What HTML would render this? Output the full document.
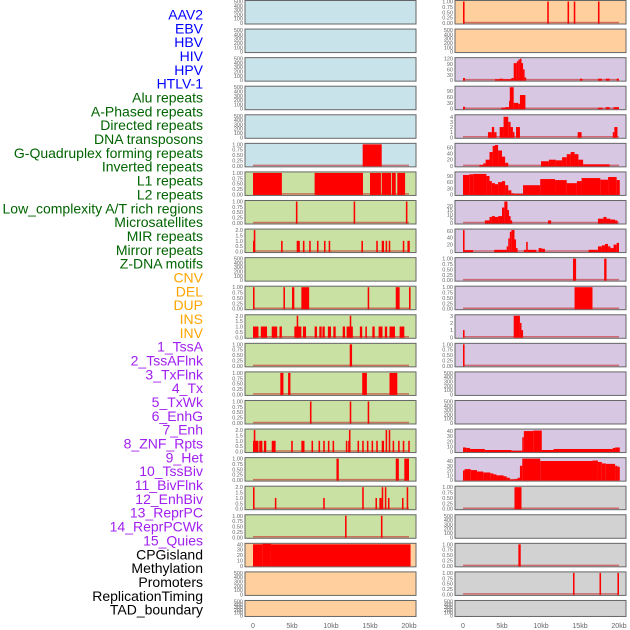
<!DOCTYPE html>
<html><head><meta charset="utf-8"><style>
html,body{margin:0;padding:0;background:#fff;width:630px;height:630px;overflow:hidden}
svg{display:block;font-family:"Liberation Sans",sans-serif}
</style></head><body>
<svg id="chart" width="630" height="630" viewBox="0 0 630 630" xmlns="http://www.w3.org/2000/svg">
<g id="labels"></g>
<g id="panels"></g>
<g id="xaxes"></g>
</svg>
<script>
const trackLabels = ["AAV2","EBV","HBV","HIV","HPV","HTLV-1","Alu repeats","A-Phased repeats","Directed repeats","DNA transposons","G-Quadruplex forming repeats","Inverted repeats","L1 repeats","L2 repeats","Low_complexity A/T rich regions","Microsatellites","MIR repeats","Mirror repeats","Z-DNA motifs","CNV","DEL","DUP","INS","INV","1_TssA","2_TssAFlnk","3_TxFlnk","4_Tx","5_TxWk","6_EnhG","7_Enh","8_ZNF_Rpts","9_Het","10_TssBiv","11_BivFlnk","12_EnhBiv","13_ReprPC","14_ReprPCWk","15_Quies","CPGisland","Methylation","Promoters","ReplicationTiming","TAD_boundary"];
const labelGroups = ["v","v","v","v","v","v","r","r","r","r","r","r","r","r","r","r","r","r","r","s","s","s","s","s","c","c","c","c","c","c","c","c","c","c","c","c","c","c","c","k","k","k","k","k"];
const xTicks = [0,5,10,15,20];
const xTickLabels = ["0","5kb","10kb","15kb","20kb"];
const ticks500 = [0,100,200,300,400,500];
const ticks1 = [0,0.25,0.5,0.75,1];
const ticks2 = [0,0.5,1,1.5,2];
// data segments: [startKb, endKb, value]
const L5 = [[14.06,16.5,1]];
const L6 = [[0,3.7,1],[7.9,14.1,1],[15.0,16.4,1],[16.5,17.7,1],[17.8,18.3,1],[18.5,19.5,1]];
const L7 = [[5.5,5.7,1],[12.9,13.1,1],[19.6,19.8,1]];
const L8 = [[0,0.1,1],[0.1,0.3,2],[3.6,3.8,1],[5.6,6.0,1],[6.4,6.6,1],[7.2,7.4,1],[8.2,8.4,1],[9.1,9.3,1],[9.7,9.9,1],[13.9,14.1,1],[15.8,16.0,1],[16.5,16.8,1],[17.0,17.2,1],[17.4,17.6,1],[19.2,19.4,1],[19.8,20.1,1]];
const L10 = [[0,0.2,1],[3.9,4.1,1],[5.0,5.3,1],[6.2,7.2,1],[14.7,14.9,1],[18.3,18.8,1],[20.0,20.2,1]];
const L11 = [[0,0.7,1],[1.0,1.8,1],[2.4,3.1,1],[3.4,3.7,1],[5.3,6.2,1],[5.6,5.8,2],[6.4,6.8,1],[7.9,8.2,1],[8.5,8.8,1],[8.9,9.2,1],[9.6,10.0,1],[10.3,10.6,1],[11.5,11.8,1],[12.0,12.8,1],[12.4,12.6,2],[13.7,14.0,1],[14.4,14.6,1],[15.3,15.6,1],[16.1,16.6,1],[16.9,17.2,1],[17.5,18.2,1],[18.8,19.4,1]];
const L12 = [[12.4,12.7,1]];
const L13 = [[3.5,3.9,1],[4.5,4.8,1],[14.0,14.6,1],[17.5,18.5,1]];
const L14 = [[7.3,7.5,1],[12.4,12.6,1],[14.7,14.9,1]];
const L15 = [[0,0.7,1],[0.1,0.3,2],[0.8,1.2,1],[1.4,1.7,1],[2.4,2.9,1],[4.9,5.1,1],[6.2,6.6,1],[7.5,7.7,1],[8.4,8.6,1],[9.0,9.2,1],[9.6,9.8,1],[10.2,10.4,1],[11.9,12.1,1],[12.2,12.5,1],[12.3,12.5,2],[13.4,13.6,1],[14.0,14.2,1],[14.6,14.8,1],[15.2,15.4,1],[15.8,16.0,1],[16.5,16.8,1],[17.0,17.2,2],[17.4,17.6,2],[17.9,18.1,1],[18.6,18.8,1],[19.2,19.4,1],[19.9,20.1,1]];
const L16 = [[10.7,11.0,1],[18.3,18.7,1],[19.4,20.0,1]];
const L17 = [[0,0.2,2],[2.8,3.0,1],[9.0,9.2,1],[14.0,14.2,2],[15.7,15.9,1],[16.2,16.5,1],[16.5,16.7,2],[16.9,17.1,2],[17.3,17.5,1],[19.1,19.3,1],[19.7,19.9,2]];
const L18 = [[11.8,12.0,1],[16.4,16.6,1]];
const L19 = [[0,1.2,40],[1.2,2.3,41],[2.3,20.2,40]];
const R0 = [[0,0.2,1],[10.8,11.0,1],[13.4,13.6,1],[14.2,14.4,1],[17.3,17.5,1]];
const R2 = [[0,0.25,12],[4.1,4.7,5],[4.7,5.1,8],[5.1,6.2,5],[6.2,6.5,12],[6.5,6.9,95],[6.9,7.1,105],[7.1,7.3,115],[7.3,7.5,120],[7.5,7.7,95],[7.7,7.9,60],[7.9,8.1,15],[15.0,15.3,8],[17.3,17.8,8],[18.3,18.8,8],[19.7,20.0,8]];
const R3 = [[0,0.25,10],[4.9,5.4,5],[5.4,5.9,8],[5.9,6.0,40],[6.0,6.5,110],[6.5,7.1,30],[7.1,7.3,25],[7.3,8.0,70],[17.3,17.9,5],[18.3,18.8,8],[19.3,20.0,8]];
const R4 = [[3.2,3.7,1],[3.7,4.0,2],[4.0,4.3,1],[4.7,5.2,2],[5.2,5.8,4],[5.8,6.1,3],[6.1,6.4,2],[6.4,6.6,1],[6.8,7.3,2],[14.7,15.2,1],[19.2,19.4,1],[19.4,19.8,2]];
const R5 = [[2.1,2.6,3],[2.6,2.9,8],[2.9,3.4,20],[3.4,3.8,45],[3.8,4.1,65],[4.1,4.5,68],[4.5,5.0,50],[5.0,5.4,30],[5.4,5.8,10],[10.0,11.0,15],[11.0,11.9,20],[11.9,12.7,18],[12.7,13.3,28],[13.3,13.8,38],[13.8,14.3,45],[14.3,14.8,38],[14.8,15.4,20],[15.4,18.8,5]];
const R6 = [[0,0.8,95],[0.8,1.3,98],[1.3,3.0,100],[3.0,3.4,90],[3.4,3.7,65],[3.7,4.1,55],[4.1,4.5,50],[4.5,5.0,60],[5.0,5.4,65],[5.4,5.8,45],[5.8,6.2,20],[6.2,6.5,5],[6.5,7.7,2],[7.7,9.9,45],[9.9,11.8,75],[11.8,13.3,70],[13.3,14.6,55],[14.6,15.2,65],[15.2,17.6,80],[17.6,18.6,72],[18.6,19.7,85],[19.7,20.1,70]];
const R7 = [[2.8,3.4,3],[3.4,3.7,7],[3.7,4.1,8],[4.1,4.5,7],[4.5,5.0,8],[5.0,5.3,18],[5.3,5.7,25],[5.7,5.9,15],[5.9,6.1,8],[6.1,6.3,3],[10.9,11.3,3],[17.3,18.0,5],[18.0,18.4,7],[18.4,18.9,5],[18.9,19.5,4],[19.5,19.8,3]];
const R8 = [[0,0.2,62],[0.2,1.3,4],[4.0,5.6,5],[5.6,5.8,15],[5.8,6.0,38],[6.0,6.2,57],[6.2,6.6,62],[6.6,6.8,35],[6.8,7.0,10],[7.8,8.1,5],[8.1,8.3,28],[8.3,9.4,5],[9.7,10.1,10],[10.1,10.5,8],[16.1,17.3,5],[17.3,17.8,15],[17.8,18.2,18],[18.2,18.6,22],[18.6,18.9,15],[18.9,19.3,10],[19.3,19.7,20],[19.7,20.0,25]];
const R9 = [[14.1,14.5,1],[18.1,18.4,1]];
const R10 = [[14.3,16.6,1]];
const R11 = [[0,0.2,1],[6.5,7.3,3],[7.3,7.5,2],[7.5,7.7,1]];
const R12 = [[0,0.2,1]];
const R15 = [[0,0.4,8],[0.4,0.9,7],[0.9,2.8,5],[2.8,6.2,3],[6.2,7.6,1],[7.6,7.8,28],[7.8,9.0,40],[9.0,10.1,41],[10.1,11.6,3],[11.6,19.2,5],[19.2,19.5,7],[19.5,20.1,8]];
const R16 = [[0,0.2,20],[0.2,1.0,23],[1.0,1.8,21],[1.8,2.6,18],[2.6,3.5,16],[3.5,3.9,14],[3.9,4.3,12],[4.3,5.2,10],[5.2,5.6,8],[5.6,6.0,5],[6.0,6.5,1],[6.5,7.0,2],[7.0,7.3,5],[7.3,7.6,30],[7.6,9.9,45],[9.9,16.6,40],[16.6,17.3,41],[17.3,17.8,38],[17.8,18.3,35],[18.3,19.5,34],[19.5,19.8,30],[19.8,20.1,28]];
const R17 = [[6.6,7.5,1]];
const R19 = [[7.1,7.4,1]];
const R20 = [[14.1,14.3,1],[17.5,17.7,1],[19.8,20.0,1]];

const BLUE="#c8e3ea", GREEN="#c9e2a3", ORANGE="#ffd09e", PURPLE="#d7c7e3", GRAY="#d2d2d2";
const leftPanels = [
 [BLUE,ticks500,null],[BLUE,ticks500,null],[BLUE,ticks500,null],[BLUE,ticks500,null],[BLUE,ticks500,null],[BLUE,ticks1,L5],
 [GREEN,ticks1,L6],[GREEN,ticks1,L7],[GREEN,ticks2,L8],[GREEN,ticks500,null],[GREEN,ticks1,L10],[GREEN,ticks2,L11],
 [GREEN,ticks1,L12],[GREEN,ticks1,L13],[GREEN,ticks1,L14],[GREEN,ticks2,L15],[GREEN,ticks1,L16],[GREEN,ticks2,L17],[GREEN,ticks1,L18],
 [ORANGE,[0,10,20,30,40],L19],[ORANGE,ticks500,null],[ORANGE,ticks500,null]];
const rightPanels = [
 [ORANGE,ticks1,R0],[ORANGE,ticks500,null],[PURPLE,[0,30,60,90,120],R2],[PURPLE,[0,30,60,90],R3,110],[PURPLE,[0,1,2,3,4],R4,4.2],
 [PURPLE,[0,20,40,60],R5,70],[PURPLE,[0,30,60,90],R6,105],[PURPLE,[0,5,10,15,20],R7,25],[PURPLE,[0,20,40,60],R8,62],
 [PURPLE,ticks1,R9],[PURPLE,ticks1,R10],[PURPLE,[0,1,2,3],R11],[PURPLE,ticks1,R12],[PURPLE,ticks500,null],[PURPLE,ticks500,null],
 [PURPLE,[0,10,20,30,40],R15,42],[PURPLE,[0,10,20,30,40],R16,45],[GRAY,ticks1,R17],[GRAY,ticks500,null],[GRAY,ticks1,R19],[GRAY,ticks1,R20],[GRAY,ticks500,null]];

const NS="http://www.w3.org/2000/svg";
function mk(tag, attrs, parent){const e=document.createElementNS(NS,tag);for(const k in attrs)e.setAttribute(k,attrs[k]);parent.appendChild(e);return e;}
const colors={v:"#0000ff",r:"#006400",s:"#ffa500",c:"#a020f0",k:"#000000"};
const labG=document.getElementById('labels');
trackLabels.forEach((t,i)=>{
  const el=mk('text',{x:203,y:19.5+i*13.84,'text-anchor':'end','font-size':'14',fill:colors[labelGroups[i]]},labG);
  
  
  el.textContent=t;
});
function rowTop(i){return i*28.57;}
function rowH(i){return i===21?17:24.5;}
function xScale(col,kb){return (col===0?253:463)+kb*7.8;}
const pG=document.getElementById('panels');
function fmt(v,tk){const m=tk[tk.length-1];if(m===1)return v.toFixed(2);if(m===2)return v.toFixed(1);return String(v);}
function drawPanel(col,row,def){
  const [bg,tk,data,ymaxO]=def;
  const top=rowTop(row),h=rowH(row),x0=col===0?245:455,w=171;
  const g=mk('g',{},pG);
  
  
  const ymax=ymaxO||tk[tk.length-1];
  const y=v=>top+h-1.5-(v/ymax)*(h-3);
  mk('rect',{x:x0,y:top+0.5,width:w,height:h-1,fill:bg,stroke:'#666',"stroke-width":1},g);
  tk.forEach(v=>{
    const t=mk('text',{x:x0-2,y:y(v)+2,'text-anchor':'end','font-size':'5.5',fill:'#666'},g);
    
    
    t.textContent=fmt(v,tk);
  });
  if(data){
    mk('line',{x1:xScale(col,0),x2:xScale(col,20),y1:top+h-2,y2:top+h-2,stroke:'rgba(200,40,40,0.6)','stroke-width':1.5},g);
    data.forEach(d=>{
      const yy=Math.max(y(d[2]),top+1);
      const r=mk('rect',{x:xScale(col,d[0]),y:yy,width:Math.max(1.2,xScale(col,d[1])-xScale(col,d[0])),height:top+h-1-yy,fill:'#ff0000'},g);
      
      
    });
  }
}
leftPanels.forEach((d,i)=>drawPanel(0,i,d));
rightPanels.forEach((d,i)=>drawPanel(1,i,d));
const xa=document.getElementById('xaxes');
[0,1].forEach(col=>{
  xTicks.forEach((v,i)=>{
    const t=mk('text',{x:xScale(col,v),y:628,'text-anchor':'middle','font-size':'7',fill:'#666'},xa);
    
    
    t.textContent=xTickLabels[i];
  });
});
</script>
</body></html>
